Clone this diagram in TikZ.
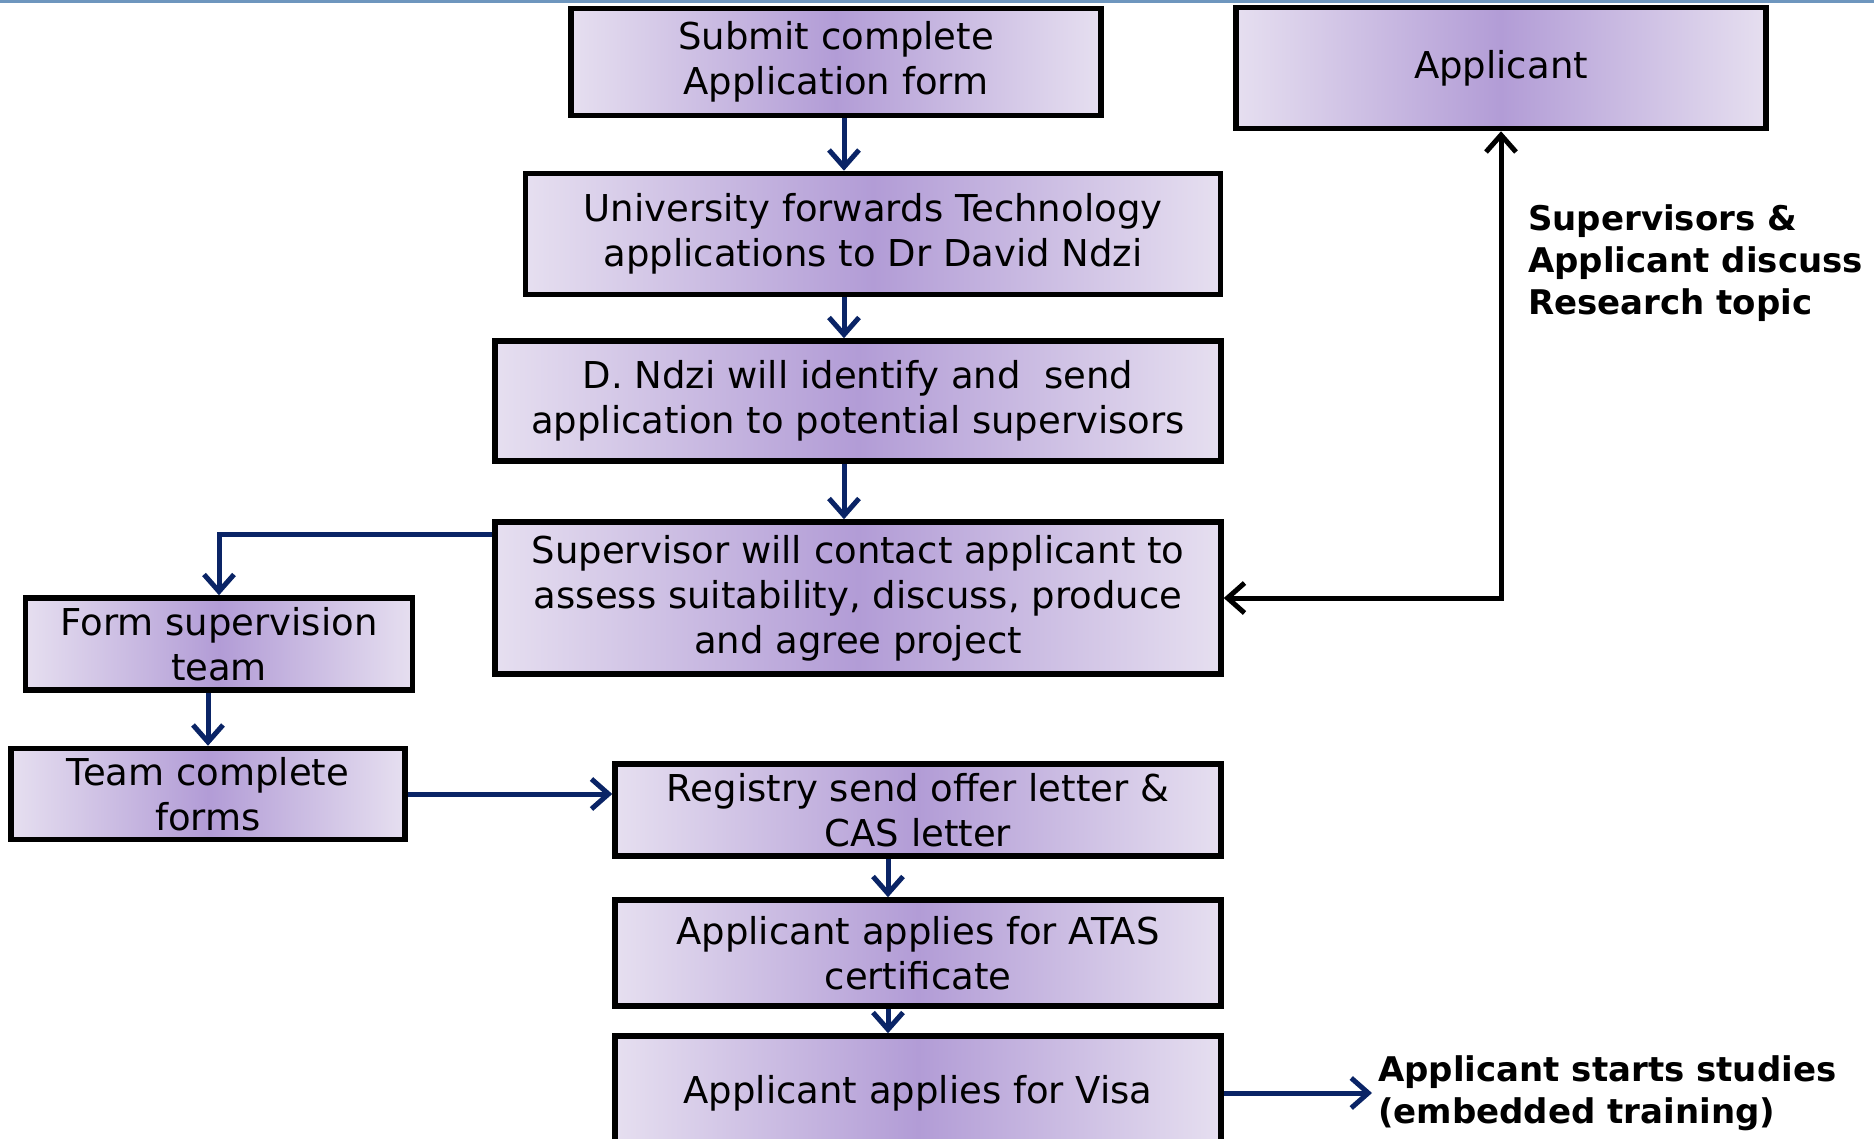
\documentclass[tikz,border=0pt]{standalone}
\usepackage{fontspec}
\setmainfont{DejaVu Sans}
\usetikzlibrary{arrows.meta, calc}
\definecolor{boxedge}{RGB}{230,223,240}
\definecolor{boxmid}{RGB}{178,156,214}
\definecolor{navyline}{RGB}{10,36,102}
\definecolor{topline}{RGB}{110,150,190}

\begin{document}
\begin{tikzpicture}[x=1pt, y=-1pt]
			\tikzstyle{stepnode}=[
			draw,
			line width=5.5pt,
			rectangle,
			align=center,
			inner sep=0pt,
			left color=boxedge,
			right color=boxedge,
			middle color=boxmid,
			font=\fontsize{37}{45}\selectfont
			]
			\tikzstyle{notenode}=[
			anchor=west,
			align=left,
			inner sep=0pt,
			font=\fontsize{34}{42}\selectfont\bfseries
			]
			\tikzstyle{flowarrow}=[
			draw=navyline,
			line width=5pt,
			-{Straight Barb[length=17pt,width=30pt,line width=5pt]}
			]
			\tikzstyle{talkarrow}=[
			draw=black,
			line width=5pt,
			{Straight Barb[length=17pt,width=30pt,line width=5pt]}-{Straight Barb[length=17pt,width=30pt,line width=5pt]}
			]
			\clip (0,0) rectangle (1874,1139);
			\fill[topline] (0,0) rectangle (1874,3);
			% main column
			\node[stepnode, minimum width=530pt, minimum height=107pt] (SUBMIT) at (836,62) {Submit complete\\Application form};
			\node[stepnode, minimum width=530pt, minimum height=121pt] (APPLICANT) at (1501,68) {Applicant};
			\node[stepnode, minimum width=695pt, minimum height=121pt] (UNI) at (873,234) {University forwards Technology\\applications to Dr David Ndzi};
			\node[stepnode, minimum width=726pt, minimum height=120pt] (NDZI) at (858,401) {D. Ndzi will identify and\ \ send\\application to potential supervisors};
			\node[stepnode, minimum width=726pt, minimum height=152pt] (CONTACT) at (858,598) {Supervisor will contact applicant to\\assess suitability, discuss, produce\\and agree project};
			% left branch
			\node[stepnode, minimum width=387pt, minimum height=92pt] (FORM) at (219,644) {Form supervision\\team};
			\node[stepnode, minimum width=394pt, minimum height=91pt] (TEAM) at (208,794) {Team complete\\forms};
			% lower column
			\node[stepnode, minimum width=606pt, minimum height=92pt] (REGISTRY) at (918,810) {Registry send offer letter \&\\CAS letter};
			\node[stepnode, minimum width=606pt, minimum height=106pt] (ATAS) at (918,953) {Applicant applies for ATAS\\certificate};
			\node[stepnode, minimum width=606pt, minimum height=114pt] (VISA) at (918,1093) {Applicant applies for Visa};
			% notes
			\node[notenode] (DISCUSS) at (1528,263) {Supervisors \&\\Applicant discuss\\Research topic};
			\node[notenode] (START) at (1378,1093) {Applicant starts studies\\(embedded training)};
			%
			\coordinate (SPINE) at (844,0);
			\coordinate (SPINETWO) at (888,0);
			\path[flowarrow] (SUBMIT.south -| SPINE) -- (UNI.north -| SPINE);
			\path[flowarrow] (UNI.south -| SPINE) -- (NDZI.north -| SPINE);
			\path[flowarrow] (NDZI.south -| SPINE) -- (CONTACT.north -| SPINE);
			\path[flowarrow] ($(CONTACT.north west)+(0,15)$) -| (FORM.north);
			\path[flowarrow] (FORM.south -| TEAM.north) -- (TEAM.north);
			\path[flowarrow] (TEAM.east) -- (TEAM.east -| REGISTRY.west);
			\path[flowarrow] (REGISTRY.south -| SPINETWO) -- (ATAS.north -| SPINETWO);
			\path[flowarrow] (ATAS.south -| SPINETWO) -- (VISA.north -| SPINETWO);
			\path[flowarrow] (VISA.east) -- ([xshift=-6pt]START.west);
			\path[talkarrow] (CONTACT.east) -| (APPLICANT.south);
		\end{tikzpicture}
\end{document}
